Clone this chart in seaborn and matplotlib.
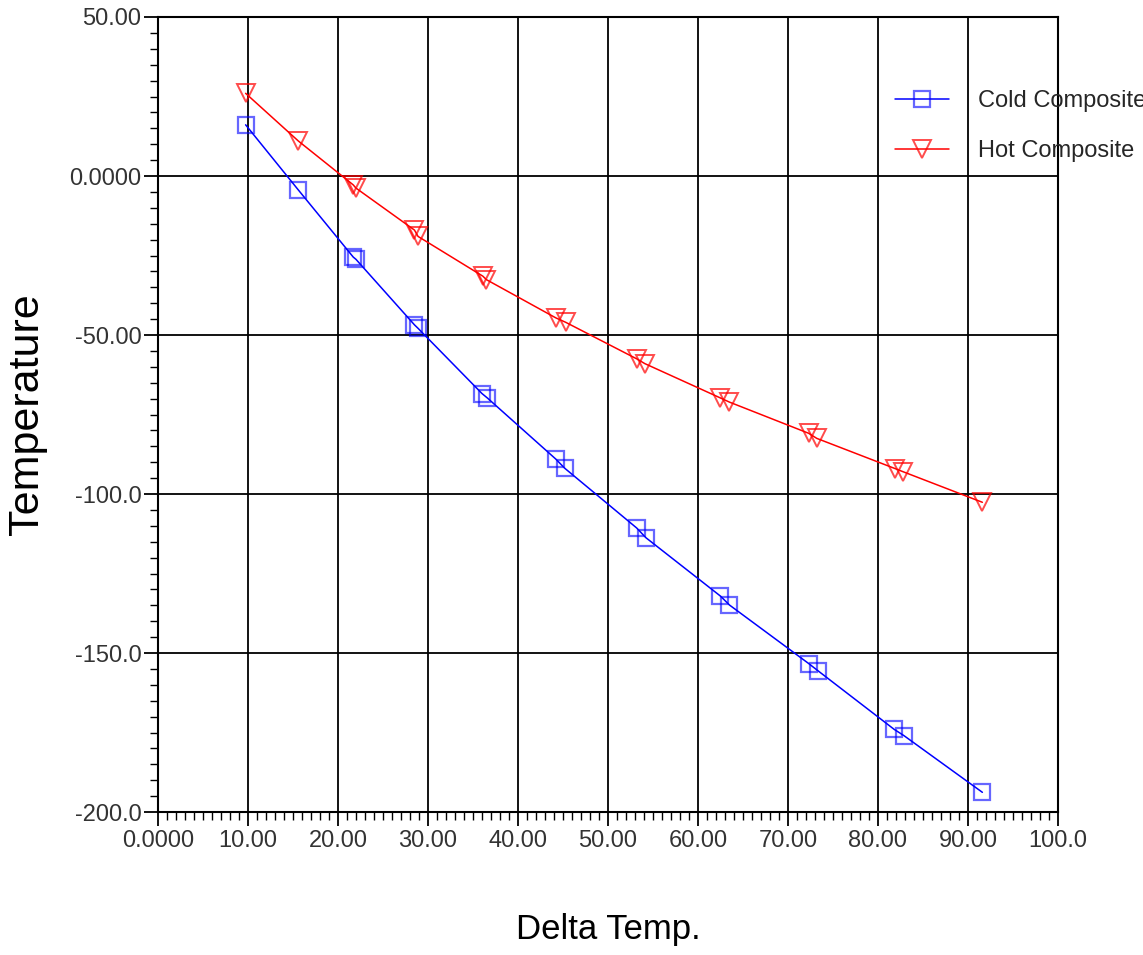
import matplotlib
matplotlib.use('Agg')
import matplotlib.pyplot as plt
import seaborn as sns
import pandas as pd
from matplotlib.ticker import MultipleLocator, FixedLocator, FixedFormatter

# composite curves
cold_x = [9.74, 15.6, 21.7, 22.0, 28.5, 28.9, 36.0, 36.6, 44.2, 45.2,
          53.2, 54.2, 62.5, 63.5, 72.3, 73.3, 81.8, 82.9, 91.6]
cold_y = [16.1, -4.4, -25.5, -26.2, -46.8, -47.9, -68.4, -69.8, -89.0, -91.9,
          -110.7, -113.7, -132.1, -134.9, -153.3, -155.5, -174.0, -176.0, -193.8]
hot_x = [9.74, 15.6, 21.7, 22.0, 28.5, 28.9, 36.1, 36.5, 44.2, 45.3,
         53.2, 54.1, 62.5, 63.5, 72.3, 73.2, 81.9, 82.8, 91.6]
hot_y = [26.0, 11.0, -2.8, -3.8, -17.0, -19.0, -31.5, -32.6, -44.6, -46.0,
         -57.5, -59.0, -69.8, -71.1, -80.9, -82.5, -92.0, -93.0, -102.6]

x_ticks = [0, 10, 20, 30, 40, 50, 60, 70, 80, 90, 100]
x_labels = ['0.0000', '10.00', '20.00', '30.00', '40.00', '50.00',
            '60.00', '70.00', '80.00', '90.00', '100.0']
y_ticks = [-200, -150, -100, -50, 0, 50]
y_labels = ['-200.0', '-150.0', '-100.0', '-50.00', '0.0000', '50.00']

sns.set_style('ticks')
plt.rcParams['font.family'] = ['Liberation Sans', 'DejaVu Sans']

cold = pd.DataFrame({'x': cold_x, 'y': cold_y})
hot = pd.DataFrame({'x': hot_x, 'y': hot_y})

fig = plt.figure(figsize=(11.43, 9.55), dpi=100)
ax = fig.add_axes([0.1382, 0.1497, 0.7874, 0.8325])

sns.lineplot(data=cold, x='x', y='y', sort=False, ax=ax, color='#0000ff', lw=1.1,
             marker='s', ms=11, mfc='none', mec=(0, 0, 1, 0.6), mew=1.6,
             label='Cold Composite')
sns.lineplot(data=hot, x='x', y='y', sort=False, ax=ax, color='#ff0000', lw=1.1,
             marker='v', ms=13, mfc='none', mec=(1, 0, 0, 0.7), mew=1.4,
             label='Hot Composite')

ax.set_xlim(0, 100)
ax.set_ylim(-200, 50)
ax.xaxis.set_major_locator(FixedLocator(x_ticks))
ax.xaxis.set_major_formatter(FixedFormatter(x_labels))
ax.yaxis.set_major_locator(FixedLocator(y_ticks))
ax.yaxis.set_major_formatter(FixedFormatter(y_labels))
ax.xaxis.set_minor_locator(MultipleLocator(1))
ax.yaxis.set_minor_locator(MultipleLocator(5))
ax.grid(True, which='major', color='black', lw=1.3)
ax.set_axisbelow(True)

for s in ax.spines.values():
    s.set_visible(True)
    s.set_color('black')
    s.set_linewidth(1.5)

ax.tick_params(axis='both', which='major', direction='out', length=10, width=1.3,
               color='black', labelsize=17, labelcolor='#333333')
ax.tick_params(axis='both', which='minor', direction='out', length=6, width=1.0,
               color='black')
ax.tick_params(axis='x', which='major', pad=3)
ax.tick_params(axis='y', which='major', pad=2)

ax.set_xlabel('Delta Temp.', fontsize=25, color='black')
ax.set_ylabel('Temperature', fontsize=31, color='black')
ax.xaxis.set_label_coords(0.5, -0.127)
ax.yaxis.set_label_coords(-0.123, 0.5)

# legend sits partly outside the axes, its text runs off the right edge as in the source
ax.legend(loc='upper left', bbox_to_anchor=(895 / 1143, 1 - 90 / 955),
          bbox_transform=fig.transFigure, frameon=False, fontsize=17,
          handlelength=2.3, handletextpad=1.2, labelspacing=1.2, borderpad=0,
          borderaxespad=0)

fig.savefig('out.png', dpi=100)
